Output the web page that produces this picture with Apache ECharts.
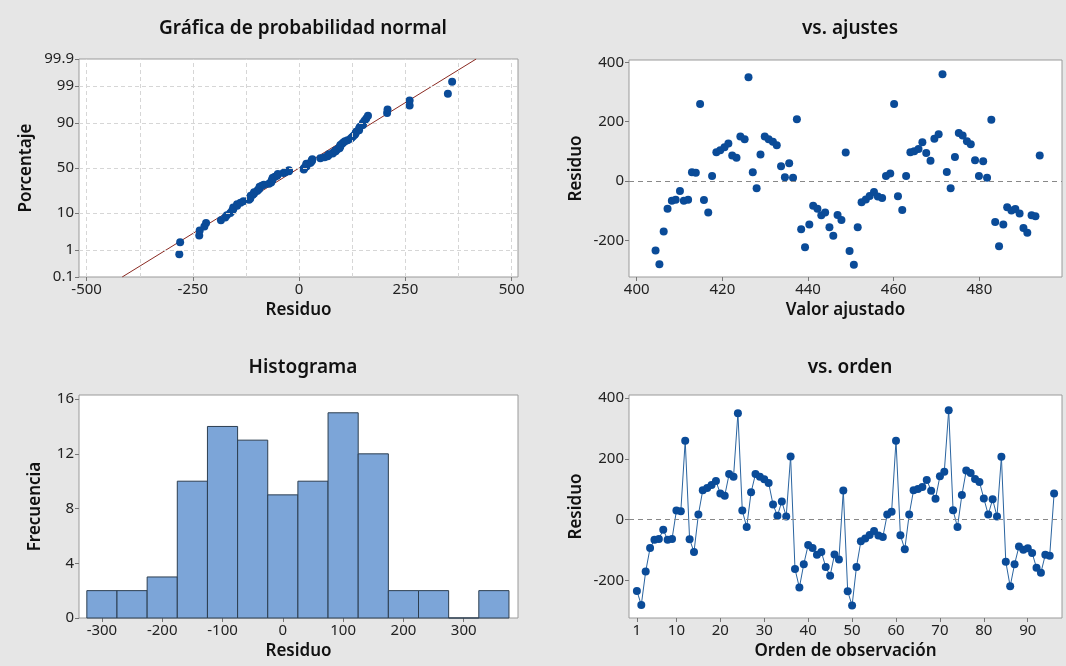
<!DOCTYPE html>
<html>
<head>
<meta charset="utf-8">
<script src="https://cdn.jsdelivr.net/npm/echarts@6/dist/echarts.min.js"></script>
<style>
html,body{margin:0;padding:0;background:#e6e6e6;}
#c{width:1066px;height:666px;}
</style>
</head>
<body>
<div id="c"></div>
<script>
// ---- data ----
const residuos = [-234,-280,-170,-93,-66,-63,-33,-66,-63,30,28,260,-64,-106,17,97,104,114,127,86,
  79,150,141,350,30,-24,90,150,141,133,121,50,13,60,11,208,-162,-223,-146,-83,
  -93,-115,-106,-155,-184,-114,-131,96,-235,-282,-155,-71,-62,-50,-37,-52,-57,17,26,260,
  -51,-97,17,97,101,108,131,95,69,143,158,360,31,-24,81,162,154,134,124,70,
  17,67,11,207,-138,-219,-146,-88,-99,-94,-109,-158,-174,-115,-118,86];
const ajustados = [404.4,405.3,406.3,407.2,408.2,409.1,410.1,411.0,412.0,412.9,413.8,414.8,415.7,416.7,417.6,418.6,
  419.5,420.5,421.4,422.3,423.3,424.2,425.2,426.1,427.1,428.0,428.9,429.9,430.8,431.8,432.7,433.7,
  434.6,435.6,436.5,437.4,438.4,439.3,440.3,441.2,442.2,443.1,444.0,445.0,445.9,446.9,447.8,448.8,
  449.7,450.7,451.6,452.5,453.5,454.4,455.4,456.3,457.3,458.2,459.2,460.1,461.0,462.0,462.9,463.9,
  464.8,465.8,466.7,467.6,468.6,469.5,470.5,471.4,472.4,473.3,474.3,475.2,476.1,477.1,478.0,479.0,
  479.9,480.9,481.8,482.8,483.7,484.6,485.6,486.5,487.5,488.4,489.4,490.3,491.2,492.2,493.1,494.1];
const histCentros = [-300,-250,-200,-150,-100,-50,0,50,100,150,200,250,300,350];
const histFrecuencias = [2,2,3,10,14,13,9,10,15,12,2,2,0,2];
const probTicks = [0.1,1,10,50,90,99,99.9];
const probXTicks = [-500,-250,0,250,500];
const probXGrid = [-500,-375,-250,-125,0,125,250,375,500];
const probYGrid = [1,10,50,90,99];
const ajusteTicks = [400,420,440,460,480];
const residuoTicks = [-200,0,200,400];
const histXTicks = [-300,-200,-100,0,100,200,300];
const histYTicks = [0,4,8,12,16];
const ordenTicks = [1,10,20,30,40,50,60,70,80,90];

// ---- normal quantile (scale transform) ----
function invNorm(p){
  const a=[-3.969683028665376e+01,2.209460984245205e+02,-2.759285104469687e+02,1.383577518672690e+02,-3.066479806614716e+01,2.506628277459239e+00];
  const b=[-5.447609879822406e+01,1.615858368580409e+02,-1.556989798598866e+02,6.680131188771972e+01,-1.328068155288572e+01];
  const c=[-7.784894002430293e-03,-3.223964580411365e-01,-2.400758277161838e+00,-2.549732539343734e+00,4.374664141464968e+00,2.938163982698783e+00];
  const d=[7.784695709041462e-03,3.224671290700398e-01,2.445134137142996e+00,3.754408661907416e+00];
  const pl=0.02425, ph=1-pl; let q,r;
  if(p<pl){q=Math.sqrt(-2*Math.log(p));return (((((c[0]*q+c[1])*q+c[2])*q+c[3])*q+c[4])*q+c[5])/((((d[0]*q+d[1])*q+d[2])*q+d[3])*q+1);}
  if(p<=ph){q=p-0.5;r=q*q;return (((((a[0]*r+a[1])*r+a[2])*r+a[3])*r+a[4])*r+a[5])*q/(((((b[0]*r+b[1])*r+b[2])*r+b[3])*r+b[4])*r+1);}
  q=Math.sqrt(-2*Math.log(1-p));return -(((((c[0]*q+c[1])*q+c[2])*q+c[3])*q+c[4])*q+c[5])/((((d[0]*q+d[1])*q+d[2])*q+d[3])*q+1);
}
const zOf = p => invNorm(p/100);
const n = residuos.length;
const ordenados = residuos.slice().sort((x,y)=>x-y);
const probData = ordenados.map((v,i)=>[v, invNorm((i+1-0.3)/(n+0.4))]);
const media = residuos.reduce((s,v)=>s+v,0)/n;
const sd = Math.sqrt(residuos.reduce((s,v)=>s+(v-media)*(v-media),0)/(n-1));
const zMin = zOf(0.1), zMax = zOf(99.9);
const fitLine = [[media+sd*zMin, zMin],[media+sd*zMax, zMax]];
const ajusteData = residuos.map((v,i)=>[ajustados[i], v]);
const ordenData = residuos.map((v,i)=>[i+1, v]);
const histData = histCentros.map((c,i)=>[c, histFrecuencias[i]]);

// ---- styles ----
const FONT = '"Noto Sans", "Open Sans", sans-serif';
const PT = '#0a4b98';
const labelStyle = {fontSize:15, color:'#222', fontFamily:FONT, margin:5};
const nameStyle = {fontSize:17, color:'#111', fontFamily:FONT, fontWeight:600};
const tickStyle = {show:true, length:4, lineStyle:{color:'#777'}};
const gridBase = {show:true, backgroundColor:'#ffffff', borderColor:'#9a9a9a', borderWidth:1, containLabel:false};
function titleAt(text, cx, top){
  return {text, left:cx, top, textAlign:'center',
    textStyle:{fontSize:19, fontWeight:600, color:'#111', fontFamily:FONT}};
}
function vAxis(opts){
  return Object.assign({type:'value', axisLine:{show:false, onZero:false}, splitLine:{show:false},
    nameLocation:'middle', nameTextStyle:nameStyle}, opts);
}

const chart = echarts.init(document.getElementById('c'), null, {renderer:'canvas'});
chart.setOption({
  backgroundColor:'#e6e6e6',
  animation:false,
  title:[
    titleAt('Gráfica de probabilidad normal', 298, 14),
    titleAt('vs. ajustes', 845, 14),
    titleAt('Histograma', 298, 353),
    titleAt('vs. orden', 845, 353)
  ],
  grid:[
    Object.assign({left:79, top:59, width:439, height:218}, gridBase),
    Object.assign({left:629, top:60, width:433, height:217}, gridBase),
    Object.assign({left:79, top:395, width:439, height:223}, gridBase),
    Object.assign({left:629, top:395, width:433, height:223}, gridBase)
  ],
  xAxis:[
    vAxis({gridIndex:0, min:-518, max:515, name:'Residuo', nameGap:25,
      axisLabel:Object.assign({customValues:probXTicks}, labelStyle),
      axisTick:Object.assign({customValues:probXTicks}, tickStyle)}),
    vAxis({gridIndex:1, min:398.2, max:499.3, name:'Valor ajustado', nameGap:25,
      axisLabel:Object.assign({customValues:ajusteTicks}, labelStyle),
      axisTick:Object.assign({customValues:ajusteTicks}, tickStyle)}),
    vAxis({gridIndex:2, min:-338, max:390, name:'Residuo', nameGap:25,
      axisLabel:Object.assign({customValues:histXTicks}, labelStyle),
      axisTick:Object.assign({customValues:histXTicks}, tickStyle)}),
    vAxis({gridIndex:3, min:-0.8, max:97.8, name:'Orden de observación', nameGap:25,
      axisLabel:Object.assign({customValues:ordenTicks}, labelStyle),
      axisTick:Object.assign({customValues:ordenTicks}, tickStyle)})
  ],
  yAxis:[
    vAxis({gridIndex:0, min:zMin, max:zMax, name:'Porcentaje', nameGap:44,
      axisLabel:Object.assign({customValues:probTicks.map(zOf),
        formatter:v=>{let best=probTicks[0];probTicks.forEach(p=>{if(Math.abs(zOf(p)-v)<Math.abs(zOf(best)-v))best=p;});return String(best);}}, labelStyle),
      axisTick:Object.assign({customValues:probTicks.map(zOf)}, tickStyle)}),
    vAxis({gridIndex:1, min:-323, max:408, name:'Residuo', nameGap:44,
      axisLabel:Object.assign({customValues:residuoTicks}, labelStyle),
      axisTick:Object.assign({customValues:residuoTicks}, tickStyle)}),
    vAxis({gridIndex:2, min:0, max:16.3, name:'Frecuencia', nameGap:35,
      axisLabel:Object.assign({customValues:histYTicks}, labelStyle),
      axisTick:Object.assign({customValues:histYTicks}, tickStyle)}),
    vAxis({gridIndex:3, min:-323, max:410, name:'Residuo', nameGap:44,
      axisLabel:Object.assign({customValues:residuoTicks}, labelStyle),
      axisTick:Object.assign({customValues:residuoTicks}, tickStyle)})
  ],
  series:[
    // probability-plot grid lines
    {type:'scatter', xAxisIndex:0, yAxisIndex:0, data:[], z:1, silent:true,
      markLine:{silent:true, symbol:'none', animation:false, label:{show:false},
        lineStyle:{color:'#d6d6d6', type:[4,3], width:1},
        data: probXGrid.map(x=>({xAxis:x})).concat(probYGrid.map(p=>({yAxis:zOf(p)})))}},
    {type:'line', xAxisIndex:0, yAxisIndex:0, data:fitLine, symbol:'none', z:3,
      lineStyle:{color:'#8a2a22', width:1}},
    {type:'scatter', xAxisIndex:0, yAxisIndex:0, data:probData, symbolSize:8, z:4,
      itemStyle:{color:PT, opacity:1}},
    // vs fits
    {type:'scatter', xAxisIndex:1, yAxisIndex:1, data:ajusteData, symbolSize:8, z:4,
      itemStyle:{color:PT, opacity:1},
      markLine:{silent:true, symbol:'none', animation:false, label:{show:false},
        lineStyle:{color:'#888', type:[5,4], width:1}, data:[{yAxis:0}]}},
    // histogram
    {type:'custom', xAxisIndex:2, yAxisIndex:2, data:histData,
      renderItem:(params, api)=>{
        const c = api.value(0), f = api.value(1);
        const p0 = api.coord([c-25, f]), p1 = api.coord([c+25, 0]);
        return {type:'rect', shape:{x:p0[0], y:p0[1], width:p1[0]-p0[0], height:p1[1]-p0[1]},
          style:{fill:'#7ca5d8', stroke:'#2c3e50', lineWidth:1}};
      }},
    // vs order
    {type:'line', xAxisIndex:3, yAxisIndex:3, data:ordenData, symbol:'circle', symbolSize:8,
      lineStyle:{color:'#2a64a0', width:1}, itemStyle:{color:PT, opacity:1}, z:4,
      markLine:{silent:true, symbol:'none', animation:false, label:{show:false},
        lineStyle:{color:'#888', type:[5,4], width:1}, data:[{yAxis:0}]}}
  ]
});
</script>
</body>
</html>
